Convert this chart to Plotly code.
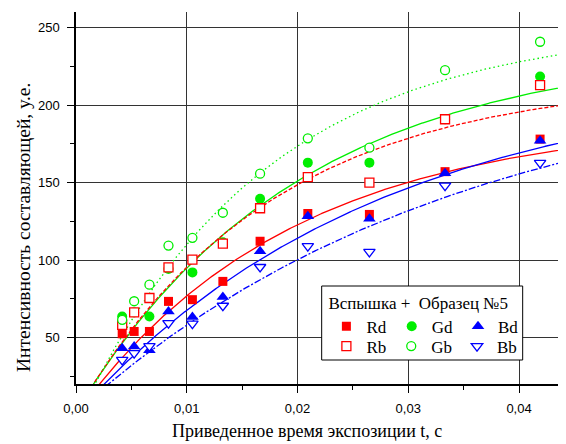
import numpy as np
import plotly.graph_objects as go

# ---- data ----
t_exp = [0.00417, 0.00525, 0.00663, 0.00835, 0.01051, 0.01326, 0.01662, 0.02093, 0.02649, 0.03332, 0.04190]
rd = [52.4, 53.9, 53.9, 73.3, 74.4, 86.2, 112.1, 130.0, 129.4, 157.0, 178.0]
gd = [63.6, 66.2, 63.6, 94.2, 92.0, 111.5, 139.5, 162.8, 162.8, 190.8, 218.4]
bd = [43.1, 44.2, 41.8, 66.8, 63.2, 76.1, 105.6, 128.3, 126.6, 155.9, 177.0]
rb = [58.2, 66.2, 75.5, 95.3, 100.3, 110.6, 133.4, 153.5, 149.9, 190.8, 212.8]
gb = [61.4, 73.4, 84.1, 109.3, 114.3, 130.5, 155.7, 178.5, 172.5, 222.5, 240.8]
bb = [35.6, 39.9, 44.5, 59.3, 58.9, 70.5, 95.5, 108.9, 105.2, 148.0, 162.6]

series_names = ["Rd", "Gd", "Bd", "Rb", "Gb", "Bb"]
series_values = [rd, gd, bd, rb, gb, bb]

# fitted saturation curves y = y0 + A*(1 - exp(-t/tau)), parameters
fit_A = [190.9, 235.6, 220.0, 216.2, 256.7, 224.7]
fit_tau = [0.0195, 0.0200, 0.0275, 0.0175, 0.0168, 0.0347]
fit_y0 = [0.3, 2.1, 0.5, 1.34, -5.1, 1.8]

x_ticks = [0.00, 0.01, 0.02, 0.03, 0.04]
y_ticks = [50, 100, 150, 200, 250]

legend_title = "Вспышка +  Образец №5"
x_title = "Приведенное время экспозиции t, с"
y_title = "Интенсивность составляющей, у.е."

# ---- styles ----
RED, GREEN, BLUE = "#FF0000", "#00EE00", "#0000FF"
colors = [RED, GREEN, BLUE, RED, GREEN, BLUE]
dashes = ["solid", "solid", "solid", "4px,2px", "1.5px,3px", "7px,2px,2px,2px"]
symbols = ["square", "circle", "triangle-up", "square", "circle", "triangle-down"]
sizes = [9, 10, 11, 9, 9, 10]
filled = [True, True, True, False, False, False]
legends = ["legend", "legend", "legend", "legend2", "legend2", "legend2"]

SERIF = "Liberation Serif, Times New Roman, serif"
SANS = "Liberation Sans, Arial, sans-serif"

fig = go.Figure()

t_fit = np.linspace(0, 0.0445, 400)
for i in range(6):
    y_fit = fit_y0[i] + fit_A[i] * (1 - np.exp(-t_fit / fit_tau[i]))
    fig.add_trace(go.Scatter(
        x=t_fit, y=y_fit, mode="lines", showlegend=False, hoverinfo="skip",
        line=dict(color=colors[i], width=1.3, dash=dashes[i]),
    ))

for i in range(6):
    if filled[i]:
        marker = dict(symbol=symbols[i], size=sizes[i], color=colors[i], line=dict(width=0))
    else:
        marker = dict(symbol=symbols[i], size=sizes[i], color="white",
                      line=dict(width=1.3, color=colors[i]))
    fig.add_trace(go.Scatter(
        x=t_exp, y=series_values[i], mode="markers", name=series_names[i],
        marker=marker, legend=legends[i],
    ))

# legend frame (white box covering grid)
fig.add_shape(type="rect", xref="paper", yref="paper",
              x0=0.5014, x1=0.9116, y0=0.0645, y1=0.2634,
              fillcolor="white", line=dict(color="black", width=1), layer="above")

fig.add_annotation(text=x_title, xref="paper", yref="paper", x=0.4714, y=-0.127,
                   xanchor="center", yanchor="middle", showarrow=False,
                   font=dict(family=SERIF, size=18, color="black"))
fig.add_annotation(text=y_title, xref="paper", yref="paper", x=-0.107, y=0.421,
                   xanchor="center", yanchor="middle", showarrow=False, textangle=-90,
                   font=dict(family=SERIF, size=19.5, color="black"))

axis_common = dict(
    showline=True, linecolor="black", linewidth=1.5,
    ticks="outside", ticklen=7, tickwidth=1, tickcolor="black",
    ticklabelstandoff=5,
    showgrid=True, gridcolor="#333", gridwidth=1,
    zeroline=False, mirror=False,
    tickfont=dict(family=SANS, size=13, color="black"),
)

# the page shows the figure with an 8px offset, so the figure is 8px smaller
fig.update_layout(
    width=558, height=436,
    margin=dict(l=68, r=0, t=4, b=60),
    paper_bgcolor="white", plot_bgcolor="white",
    separators=", ",
    xaxis=dict(range=[0, 0.04424], tickvals=x_ticks, tickformat=".2f",
               minor=dict(dtick=0.005, tick0=0, ticks="outside", ticklen=4, tickcolor="black", showgrid=False),
               **axis_common),
    yaxis=dict(range=[20, 260], tickvals=y_ticks,
               minor=dict(dtick=25, tick0=0, ticks="outside", ticklen=4, tickcolor="black", showgrid=False),
               **axis_common),
    legend=dict(x=0.511, xanchor="left", y=0.262, yanchor="top", orientation="h",
                bgcolor="rgba(0,0,0,0)", borderwidth=0, itemwidth=30,
                font=dict(family=SERIF, size=17, color="black"),
                title=dict(text=legend_title, side="top", font=dict(family=SERIF, size=17, color="black"))),
    legend2=dict(x=0.511, xanchor="left", y=0.149, yanchor="top", orientation="h",
                 bgcolor="rgba(0,0,0,0)", borderwidth=0, itemwidth=30,
                 font=dict(family=SERIF, size=17, color="black")),
)

fig.write_html("out.html")
